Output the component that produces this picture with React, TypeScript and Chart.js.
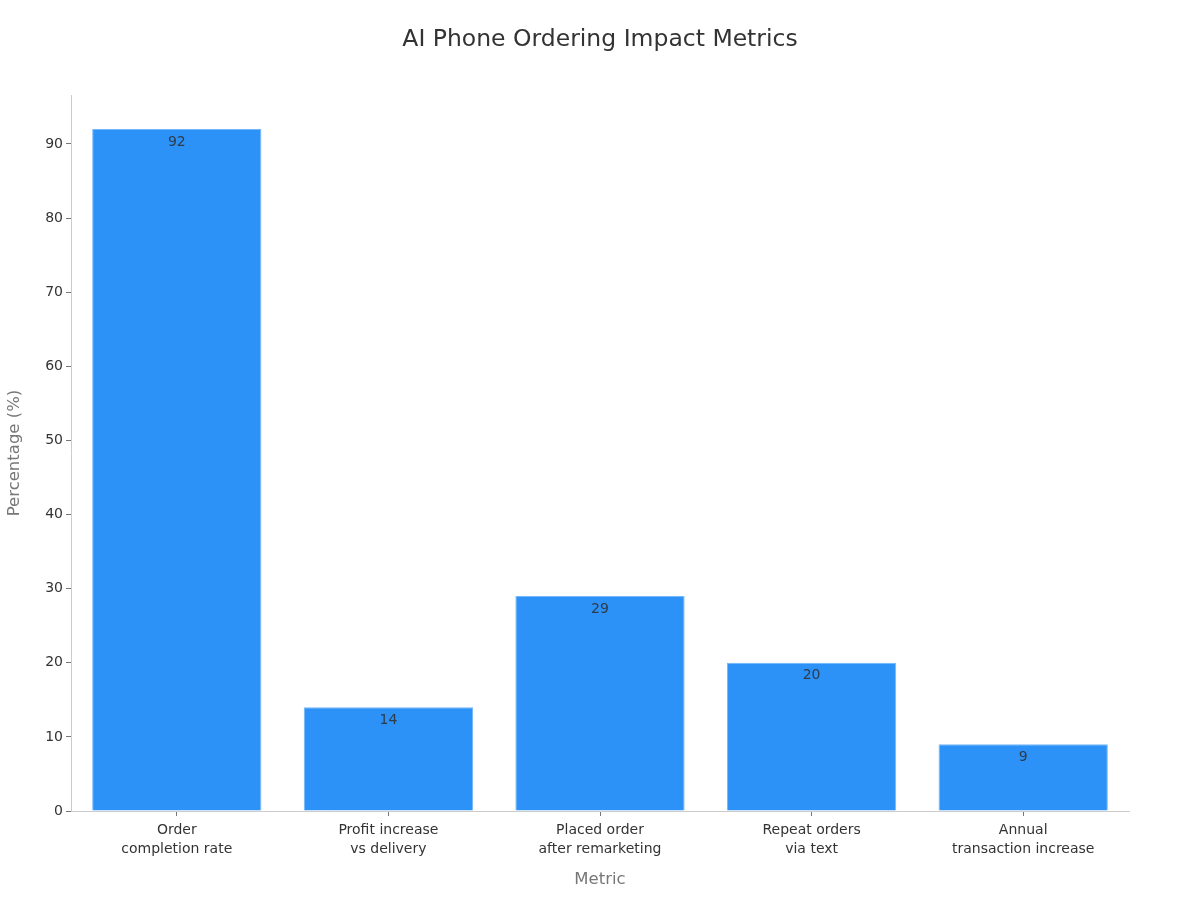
import React, { useEffect, useRef } from 'react'
import { Chart, registerables } from 'chart.js'

Chart.register(...registerables)

const chartTitle = 'AI Phone Ordering Impact Metrics'
const categories: string[][] = [
	['Order', 'completion rate'],
	['Profit increase', 'vs delivery'],
	['Placed order', 'after remarketing'],
	['Repeat orders', 'via text'],
	['Annual', 'transaction increase'],
]
const percentages: number[] = [92, 14, 29, 20, 9]
const yTicks: number[] = [0, 10, 20, 30, 40, 50, 60, 70, 80, 90]

const FONT = "'DejaVu Sans', sans-serif"

// value inside the top of each bar, and the title centred on the whole canvas
const overlay = {
	id: 'overlay',
	afterDatasetsDraw(chart: Chart) {
		const ctx = chart.ctx
		const meta = chart.getDatasetMeta(0)
		ctx.save()
		ctx.font = `14px ${FONT}`
		ctx.fillStyle = 'rgba(45,45,45,0.85)'
		ctx.textAlign = 'center'
		ctx.textBaseline = 'middle'
		meta.data.forEach((bar: any, i: number) => {
			ctx.fillText(String(percentages[i]), bar.x, bar.y + 13)
		})
		ctx.font = `23.5px ${FONT}`
		ctx.fillStyle = '#333'
		ctx.fillText(chartTitle, chart.width / 2, 40)
		ctx.restore()
	},
}

function ImpactChart() {
	const canvasRef = useRef<HTMLCanvasElement>(null)

	useEffect(() => {
		let chart: Chart | undefined
		const ctx = canvasRef.current?.getContext('2d')
		if (ctx) {
			chart = new Chart(ctx, {
				type: 'bar',
				data: {
					labels: categories,
					datasets: [
						{
							data: percentages,
							backgroundColor: '#2d92f7',
							borderColor: '#74b7fb',
							borderWidth: 1,
							categoryPercentage: 1,
							barPercentage: 0.8,
						},
					],
				},
				plugins: [overlay],
				options: {
					responsive: false,
					animation: false,
					layout: { padding: { left: 5, right: 71, top: 95, bottom: 0 } },
					plugins: {
						legend: { display: false },
						tooltip: { enabled: false },
						title: { display: false },
					},
					scales: {
						x: {
							grid: {
								display: true,
								drawOnChartArea: false,
								offset: false,
								tickLength: 5,
								color: '#777',
							},
							border: { display: true, color: '#ccc' },
							ticks: {
								color: '#333',
								padding: 5,
								maxRotation: 0,
								font: { family: FONT, size: 14, lineHeight: 1.35 },
							},
							title: {
								display: true,
								text: 'Metric',
								color: '#777',
								font: { family: FONT, size: 16.5 },
								padding: { top: 0, bottom: 10 },
							},
							afterFit(scale: any) {
								scale.height = 89
							},
						},
						y: {
							min: 0,
							max: 96.6,
							afterBuildTicks(scale: any) {
								scale.ticks = yTicks.map((v) => ({ value: v }))
							},
							grid: {
								display: true,
								drawOnChartArea: false,
								tickLength: 5,
								color: '#777',
							},
							border: { display: true, color: '#ccc' },
							ticks: {
								color: '#333',
								padding: 3,
								font: { family: FONT, size: 14 },
							},
							title: {
								display: true,
								text: 'Percentage (%)',
								color: '#777',
								font: { family: FONT, size: 16.5 },
								padding: { top: 0, bottom: 0 },
							},
							afterFit(scale: any) {
								scale.width = 66
							},
						},
					},
				},
			})
		}
		return () => chart?.destroy()
	}, [])

	return <canvas ref={canvasRef} width={1200} height={900} style={{ display: 'block' }} />
}

export default function App() {
	return (
		<div style={{ position: 'fixed', top: 0, left: 0, width: 1200, height: 900, background: '#fff' }}>
			<ImpactChart />
		</div>
	)
}
